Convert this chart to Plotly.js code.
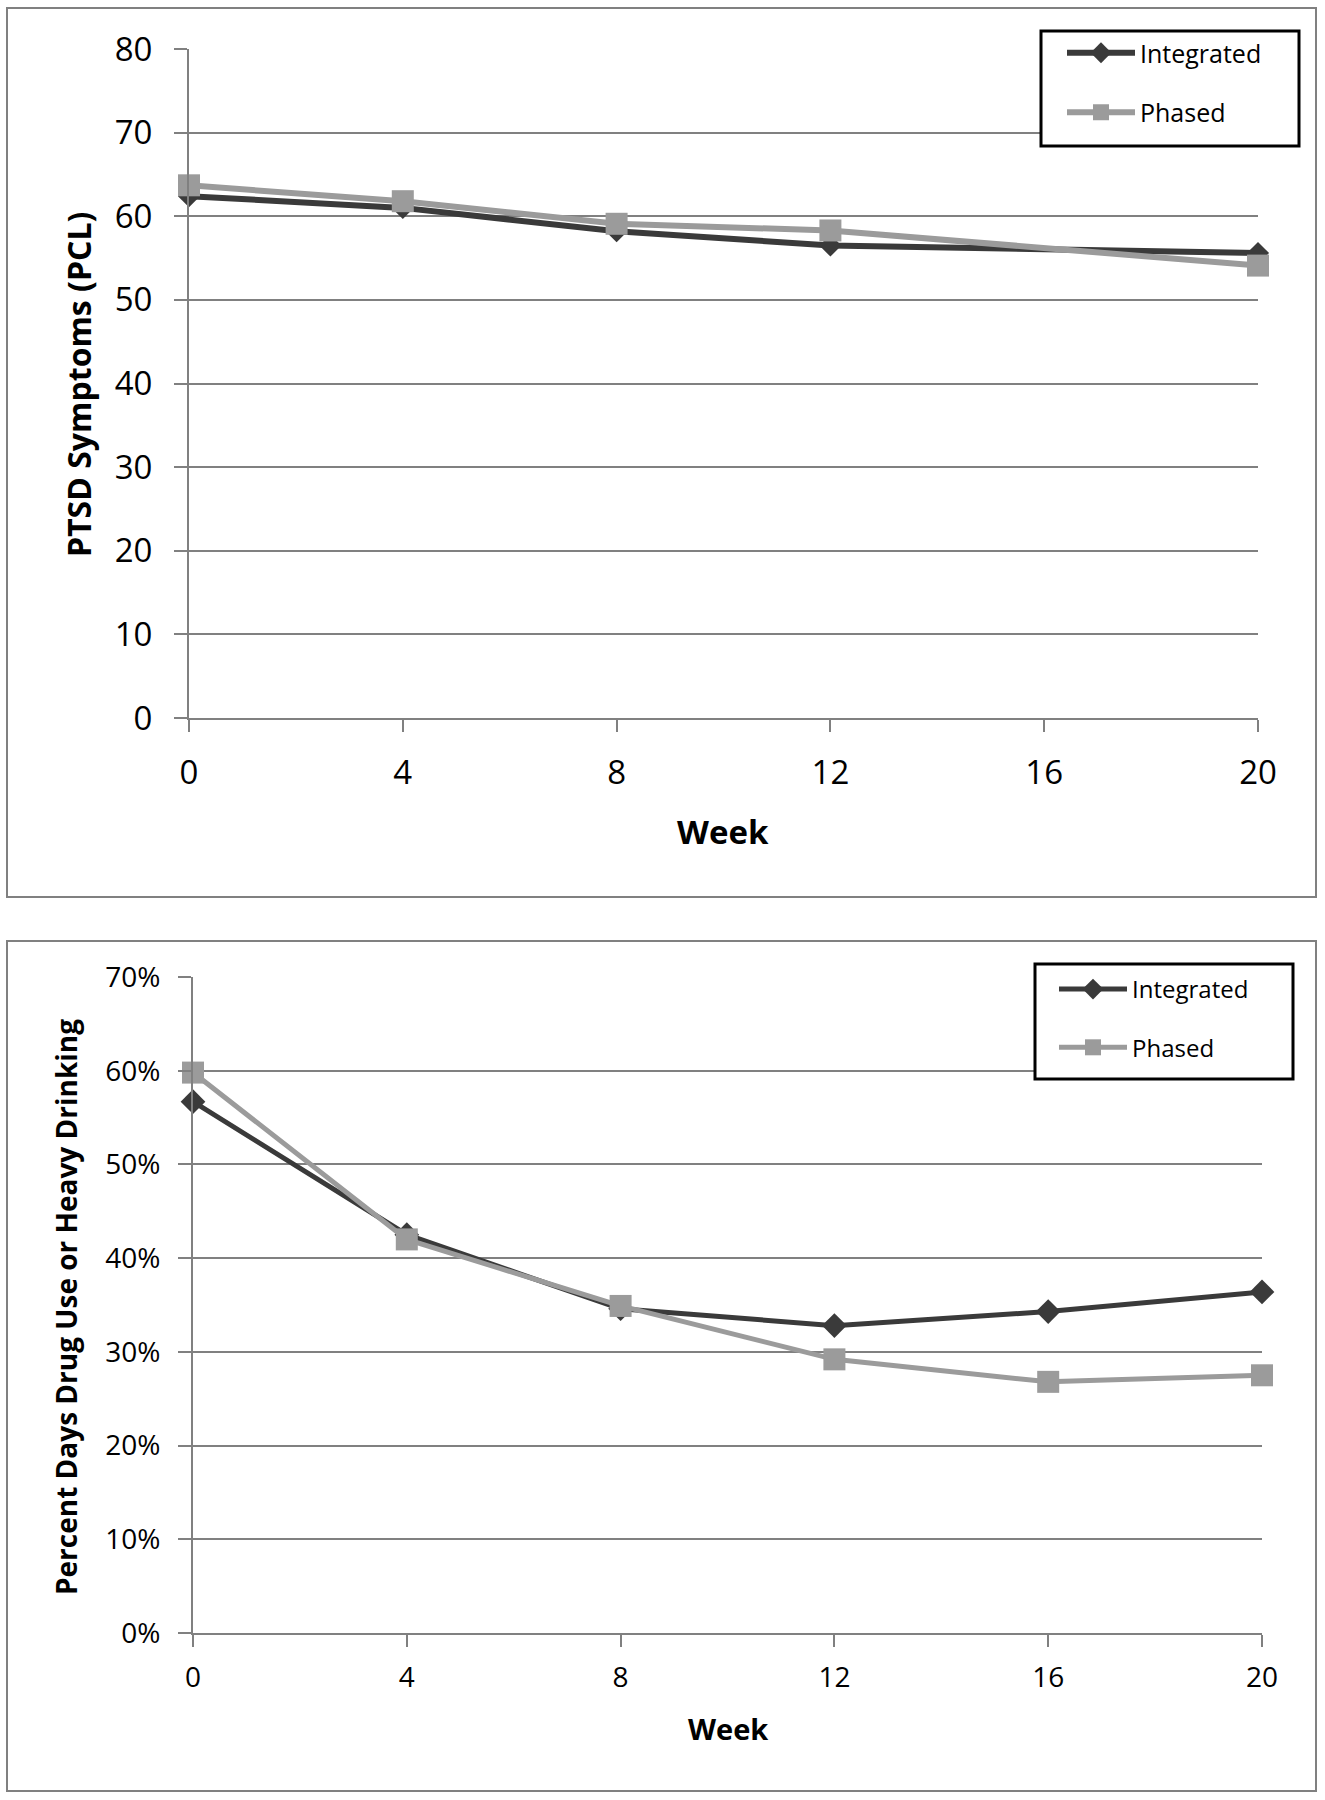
<!DOCTYPE html>
<html>
<head>
<meta charset="utf-8">
<script src="https://cdn.plot.ly/plotly-3.0.1.min.js"></script>
<style>html,body{margin:0;padding:0;background:#fff;}#chart{width:1325px;height:1800px;}</style>
</head>
<body>
<div id="chart"></div>
<script>
// ---- data ----
const seriesNames = ["Integrated", "Phased"];
const weeksPTSD = [0, 4, 8, 12, 20];
const ptsdIntegrated = [62.4, 61.0, 58.2, 56.5, 55.6];
const ptsdPhased = [63.7, 61.8, 59.1, 58.3, 54.1];
const weeksDrug = [0, 4, 8, 12, 16, 20];
const drugIntegrated = [0.567, 0.425, 0.346, 0.328, 0.343, 0.364];
const drugPhased = [0.598, 0.420, 0.349, 0.292, 0.268, 0.275];
const weekTicks = [0, 4, 8, 12, 16, 20];
const ptsdTicks = [0, 10, 20, 30, 40, 50, 60, 70, 80];
const drugTicks = [0, 0.1, 0.2, 0.3, 0.4, 0.5, 0.6, 0.7];
const titles = {
  ptsdY: "PTSD Symptoms (PCL)",
  drugY: "Percent Days Drug Use or Heavy Drinking",
  x: "Week"
};

const W = 1325, H = 1800;
const px = v => v / W;
const py = v => 1 - v / H;

const darkCol = "#3a3a3a";
const lightCol = "#9b9b9b";
const gridCol = "#808080";
const FONT = "Open Sans, DejaVu Sans, sans-serif";

function tr(x, y, name, col, sym, size, width, xa, ya, leg, grp) {
  return {
    x: x, y: y, name: name, type: "scatter", mode: "lines+markers",
    xaxis: xa, yaxis: ya, legend: leg, legendgroup: grp,
    line: {color: col, width: width},
    marker: {symbol: sym, size: size, color: col},
    cliponaxis: false, hoverinfo: "skip"
  };
}

const data = [
  tr(weeksPTSD, ptsdIntegrated, seriesNames[0], darkCol, "diamond", 17, 6, "x", "y", "legend", "a"),
  tr(weeksPTSD, ptsdPhased, seriesNames[1], lightCol, "square", 22, 6, "x", "y", "legend", "b"),
  tr(weeksDrug, drugIntegrated, seriesNames[0], darkCol, "diamond", 19, 5, "x2", "y2", "legend2", "a"),
  tr(weeksDrug, drugPhased, seriesNames[1], lightCol, "square", 22, 5, "x2", "y2", "legend2", "b")
];

function xAxis(dom, anchor, fs, standoff) {
  return {
    domain: dom, anchor: anchor, range: [0, 20], tickvals: weekTicks,
    showgrid: false, zeroline: false, showline: true, linecolor: gridCol, linewidth: 2,
    ticks: "outside", ticklen: 12, tickwidth: 2, tickcolor: gridCol,
    tickfont: {family: FONT, size: fs, color: "#000"}, ticklabelstandoff: standoff
  };
}
function yAxis(dom, anchor, range, vals, fs, standoff, fmt) {
  const a = {
    domain: dom, anchor: anchor, range: range, tickvals: vals,
    showgrid: true, gridcolor: gridCol, gridwidth: 2,
    zeroline: false, showline: true, linecolor: gridCol, linewidth: 2,
    ticks: "outside", ticklen: 13, tickwidth: 2, tickcolor: gridCol,
    tickfont: {family: FONT, size: fs, color: "#000"}, ticklabelstandoff: standoff
  };
  if (fmt) a.tickformat = fmt;
  return a;
}

const layout = {
  width: W, height: H,
  margin: {l: 0, r: 0, t: 0, b: 0},
  paper_bgcolor: "#fff", plot_bgcolor: "rgba(0,0,0,0)",
  showlegend: true,
  xaxis: xAxis([px(189), px(1258)], "y", 33, 12),
  yaxis: yAxis([py(718), py(49)], "x", [0, 80], ptsdTicks, 33, 15),
  xaxis2: xAxis([px(193), px(1262)], "y2", 28, 6),
  yaxis2: yAxis([py(1633), py(977)], "x2", [0, 0.7], drugTicks, 28, 12, ".0%"),
  legend: {
    x: px(1062), y: py(30), xanchor: "left", yanchor: "top",
    bgcolor: "rgba(0,0,0,0)", borderwidth: 0,
    font: {family: FONT, size: 25, color: "#000"},
    traceorder: "grouped", tracegroupgap: 24, itemwidth: 68
  },
  legend2: {
    x: px(1054), y: py(967), xanchor: "left", yanchor: "top",
    bgcolor: "rgba(0,0,0,0)", borderwidth: 0,
    font: {family: FONT, size: 24, color: "#000"},
    traceorder: "grouped", tracegroupgap: 24, itemwidth: 68
  },
  shapes: [
    {type: "rect", xref: "paper", yref: "paper", x0: px(7), x1: px(1316), y0: py(897), y1: py(8),
     line: {color: gridCol, width: 2}, fillcolor: "rgba(0,0,0,0)", layer: "below"},
    {type: "rect", xref: "paper", yref: "paper", x0: px(7), x1: px(1316), y0: py(1791), y1: py(941),
     line: {color: gridCol, width: 2}, fillcolor: "rgba(0,0,0,0)", layer: "below"},
    {type: "rect", xref: "paper", yref: "paper", x0: px(1041), x1: px(1299), y0: py(146), y1: py(31),
     line: {color: "#000", width: 3}, fillcolor: "#fff", layer: "above"},
    {type: "rect", xref: "paper", yref: "paper", x0: px(1035), x1: px(1293), y0: py(1079), y1: py(964),
     line: {color: "#000", width: 3}, fillcolor: "#fff", layer: "above"}
  ],
  annotations: [
    {text: titles.ptsdY, xref: "paper", yref: "paper", x: px(78), y: py(385), textangle: -90,
     xanchor: "center", yanchor: "middle",
     showarrow: false, font: {family: FONT, size: 32, color: "#000", weight: "bold"}},
    {text: titles.x, xref: "paper", yref: "paper", x: px(723), y: py(831),
     xanchor: "center", yanchor: "middle",
     showarrow: false, font: {family: FONT, size: 33, color: "#000", weight: "bold"}},
    {text: titles.drugY, xref: "paper", yref: "paper", x: px(66), y: py(1307), textangle: -90,
     xanchor: "center", yanchor: "middle",
     showarrow: false, font: {family: FONT, size: 28, color: "#000", weight: "bold"}},
    {text: titles.x, xref: "paper", yref: "paper", x: px(728), y: py(1728),
     xanchor: "center", yanchor: "middle",
     showarrow: false, font: {family: FONT, size: 29, color: "#000", weight: "bold"}}
  ]
};

Plotly.newPlot("chart", data, layout, {staticPlot: true, displayModeBar: false});
</script>
</body>
</html>
